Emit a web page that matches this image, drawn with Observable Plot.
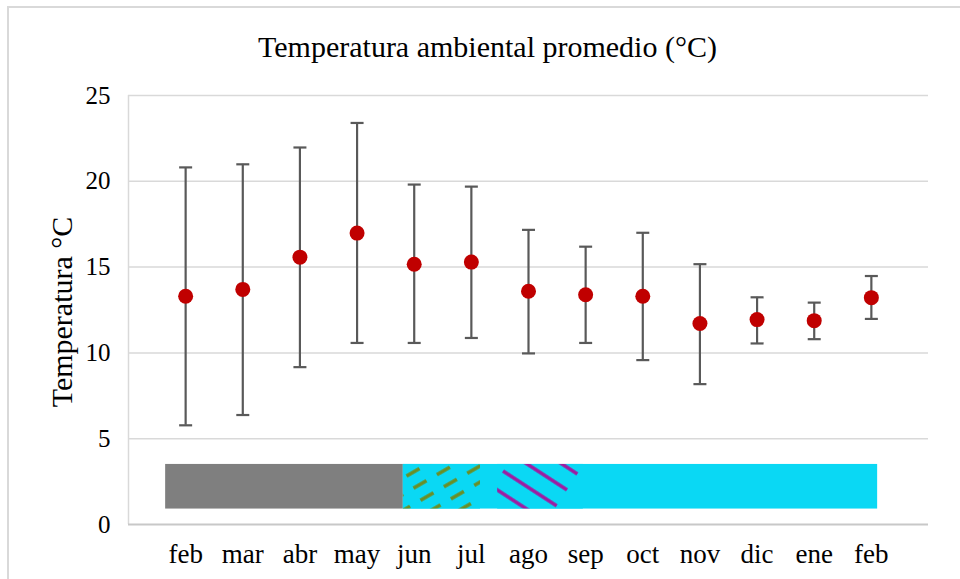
<!DOCTYPE html>
<html>
<head>
<meta charset="utf-8">
<script src="https://cdn.jsdelivr.net/npm/d3@7"></script>
<script src="https://cdn.jsdelivr.net/npm/@observablehq/plot@0.6"></script>
<style>
  html, body { margin: 0; padding: 0; background: #fff; }
  #wrap { position: relative; width: 960px; height: 579px; overflow: hidden; }
  #border { position: absolute; left: 7px; top: 6px; width: 1000px; height: 620px;
            border-top: 2px solid #d9d9d9; border-left: 2px solid #d9d9d9; }
  #chart { position: absolute; left: 0; top: 0; }
</style>
</head>
<body>
<div id="wrap"><div id="border"></div><div id="chart"></div></div>
<script>
// ---- data ----
const titleText = "Temperatura ambiental promedio (°C)";
const yLabel = "Temperatura °C";
const months = ["feb","mar","abr","may","jun","jul","ago","sep","oct","nov","dic","ene","feb"];
const mean  = [13.30, 13.70, 15.58, 16.98, 15.17, 15.29, 13.59, 13.39, 13.30, 11.71, 11.94, 11.88, 13.22];
const upper = [20.81, 20.99, 21.97, 23.40, 19.81, 19.69, 17.17, 16.19, 17.00, 15.17, 13.24, 12.93, 14.48];
const lower = [ 5.78,  6.38,  9.17, 10.58, 10.58, 10.87,  9.97, 10.58,  9.58,  8.18, 10.55, 10.80, 11.98];
const yTicks = [0, 5, 10, 15, 20, 25];

// season band (in month-index units)
const seasonNames = ["seca", "lluviosa"];
const seasonStart = [-0.35, 3.81];
const seasonEnd   = [3.81, 12.11];
const bandLow = 0.9, bandHigh = 3.5;

// hatched sub-periods
const hatchNames = ["verde", "morado"];
const hatchStart = [3.81, 5.46];
const hatchEnd   = [5.16, 6.96];

// ---- tables ----
const pts = months.map((m, i) => ({i, m, mean: mean[i], hi: upper[i], lo: lower[i]}));
const seasons = seasonNames.map((s, k) => ({s, x1: seasonStart[k], x2: seasonEnd[k], y1: bandLow, y2: bandHigh}));
const hatches = hatchNames.map((h, k) => ({h, x1: hatchStart[k], x2: hatchEnd[k], y1: bandLow, y2: bandHigh}));

const capSymbol = { draw(ctx) { ctx.moveTo(-6.5, 0); ctx.lineTo(6.5, 0); } };
const seasonFill = {seca: "#7f7f7f", lluviosa: "#0ad8f4"};
const hatchFill = {verde: "url(#hatchGreen)", morado: "url(#hatchPurple)"};

const chart = Plot.plot({
  width: 960, height: 579,
  marginLeft: 128, marginRight: 32, marginTop: 95, marginBottom: 55,
  style: {fontFamily: "'Liberation Serif', 'Times New Roman', serif", fontSize: "24px", color: "#000", background: "transparent"},
  x: {type: "linear", domain: [-1, 13], axis: null},
  y: {domain: [0, 25], axis: null},
  marks: [
    Plot.gridY(yTicks.slice(1), {stroke: "#d9d9d9", strokeOpacity: 1, strokeWidth: 1.5}),
    Plot.ruleX([-1], {y1: 0, y2: 25, stroke: "#d9d9d9", strokeWidth: 1.5}),
    Plot.ruleY([0], {x1: -1, x2: 13, stroke: "#c8c8c8", strokeWidth: 2}),
    Plot.axisY({ticks: yTicks, tickSize: 0, tickPadding: 18, fontSize: 25, label: null}),
    Plot.axisX({ticks: d3.range(months.length), tickFormat: i => months[i], tickSize: 0, tickPadding: 19, fontSize: 27, label: null}),
    Plot.rectY(seasons, {x1: "x1", x2: "x2", y1: "y1", y2: "y2", fill: d => seasonFill[d.s]}),
    Plot.rectY(hatches, {x1: "x1", x2: "x2", y1: "y1", y2: "y2", fill: d => hatchFill[d.h]}),
    Plot.ruleX(pts, {x: "i", y1: "lo", y2: "hi", stroke: "#595959", strokeWidth: 2.2}),
    Plot.dot(pts, {x: "i", y: "hi", symbol: capSymbol, stroke: "#595959", strokeWidth: 2.2, fill: "none"}),
    Plot.dot(pts, {x: "i", y: "lo", symbol: capSymbol, stroke: "#595959", strokeWidth: 2.2, fill: "none"}),
    Plot.dot(pts, {x: "i", y: "mean", r: 7.5, fill: "#c00000", stroke: "none"}),
    Plot.text([titleText], {frameAnchor: "top-left", dx: 359, dy: -48, fontSize: 30, textAnchor: "middle", lineAnchor: "middle"}),
    Plot.text([yLabel], {frameAnchor: "left", dx: -66, dy: 2, rotate: -90, fontSize: 30, textAnchor: "middle", lineAnchor: "middle"})
  ]
});

// patterns for hatching
const defs = d3.select(chart).insert("defs", ":first-child");
const pg = defs.append("pattern").attr("id", "hatchGreen").attr("patternUnits", "userSpaceOnUse")
  .attr("width", 27).attr("height", 14).attr("patternTransform", "translate(403,470) rotate(-30)");
pg.append("rect").attr("width", 27).attr("height", 14).attr("fill", "#0ad8f4");
pg.append("line").attr("x1", 0).attr("y1", 7).attr("x2", 15).attr("y2", 7)
  .attr("stroke", "#6b8e23").attr("stroke-width", 3.5);
const pp = defs.append("pattern").attr("id", "hatchPurple").attr("patternUnits", "userSpaceOnUse")
  .attr("width", 95).attr("height", 19).attr("patternTransform", "translate(503,471) rotate(33)");
pp.append("rect").attr("width", 95).attr("height", 19).attr("fill", "#0ad8f4");
pp.append("line").attr("x1", 0).attr("y1", 0).attr("x2", 64).attr("y2", 0)
  .attr("stroke", "#a01aa0").attr("stroke-width", 3.5);
pp.append("line").attr("x1", 0).attr("y1", 19).attr("x2", 64).attr("y2", 19)
  .attr("stroke", "#a01aa0").attr("stroke-width", 3.5);

document.getElementById("chart").appendChild(chart);
</script>
</body>
</html>
